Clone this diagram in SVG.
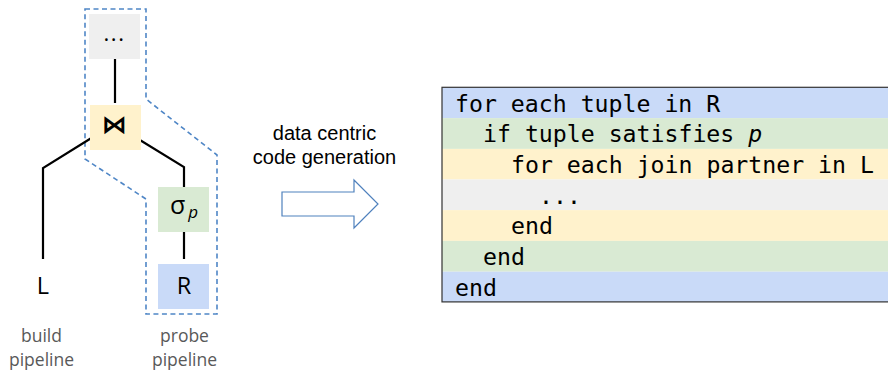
<svg xmlns="http://www.w3.org/2000/svg" width="888" height="372" viewBox="0 0 888 372">
<style>
.node{font-family:"Open Sans","Noto Sans",sans-serif;fill:#000}
.lbl{font-family:"Open Sans","Noto Sans",sans-serif;font-size:17.5px;fill:#595959;text-anchor:middle}
.edge{stroke:#000;stroke-width:2.2;fill:none}
.code{font-family:"DejaVu Sans Mono","Liberation Mono",monospace;font-size:23.2px;fill:#000}
.cap{font-family:"Liberation Sans",Arial,sans-serif;font-size:20px;fill:#000;text-anchor:middle}
</style>
<rect width="888" height="372" fill="#fff"/>
<g id="pipeline-outline">
<polygon points="85,9 146,9 146,99 217,155 217,314 146,314 146,199 85,159" fill="none" stroke="#4f86c6" stroke-width="1.6" stroke-dasharray="5,3.5"/>
</g>
<g id="connectors">
<line class="edge" x1="115" y1="55" x2="115" y2="103"/>
<polyline class="edge" points="93,137 43,168 43,259"/>
<polyline class="edge" points="135,137 184,167 184,195"/>
<line class="edge" x1="184" y1="230" x2="184" y2="259"/>
</g>
<g id="node-dots">
<rect x="89" y="14" width="51" height="45" fill="#efefef"/>
<text class="node" x="114.5" y="41" font-size="22" letter-spacing="1.5" text-anchor="middle">...</text>
</g>
<g id="node-join">
<rect x="90" y="105" width="51" height="45" fill="#fff2cc"/>
<text x="114" y="132.5" font-family="DejaVu Sans,sans-serif" font-size="25" font-weight="bold" text-anchor="middle">⋈</text>
</g>
<g id="node-select">
<rect x="158" y="187" width="51" height="45" fill="#d9ead3"/>
<text class="node" x="170" y="214" font-size="25">σ<tspan font-size="17" font-style="italic" dx="3" dy="3.5">p</tspan></text>
</g>
<g id="node-R">
<rect x="158" y="264" width="51" height="45" fill="#c9daf8"/>
<text class="node" x="184" y="294" font-size="23.5" text-anchor="middle">R</text>
</g>
<g id="node-L">
<text class="node" x="43" y="294" font-size="23.5" text-anchor="middle">L</text>
</g>
<g id="labels">
<text class="lbl" x="41.5" y="342">build</text>
<text class="lbl" x="41.5" y="366">pipeline</text>
<text class="lbl" x="184.5" y="342">probe</text>
<text class="lbl" x="184.5" y="366">pipeline</text>
</g>
<g id="transform-arrow">
<text class="cap" x="324.5" y="140">data centric</text>
<text class="cap" x="324.5" y="164">code generation</text>
<polygon points="282,192 354,192 354,180 378,204 354,228 354,216 282,216" fill="#fff" stroke="#4f81bd" stroke-width="1.2"/>
</g>
<g id="code-block">
<rect x="442" y="87.3" width="460" height="30.8" fill="#c9daf8"/>
<rect x="442" y="118.1" width="460" height="30.8" fill="#d9ead3"/>
<rect x="442" y="148.9" width="460" height="30.6" fill="#fff2cc"/>
<rect x="442" y="179.5" width="460" height="30.6" fill="#efefef"/>
<rect x="442" y="210.1" width="460" height="30.8" fill="#fff2cc"/>
<rect x="442" y="240.9" width="460" height="30.8" fill="#d9ead3"/>
<rect x="442" y="271.7" width="460" height="30.2" fill="#c9daf8"/>
<rect x="442" y="87.3" width="460" height="214.6" fill="none" stroke="#333" stroke-width="1.2"/>
<text class="code" x="455" y="111.5">for each tuple in R</text>
<text class="code" x="483" y="142.3">if tuple satisfies <tspan font-style="italic">p</tspan></text>
<text class="code" x="511" y="173">for each join partner in L</text>
<text class="code" x="539" y="203.5">...</text>
<text class="code" x="511" y="234.3">end</text>
<text class="code" x="483" y="265">end</text>
<text class="code" x="455" y="295.5">end</text>
</g>
</svg>
